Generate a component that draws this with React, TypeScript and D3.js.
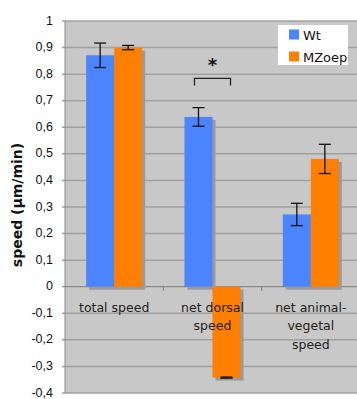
import React from 'react';
import * as d3 from 'd3';

const categories = [['total speed'], ['net dorsal', 'speed'], ['net animal-', 'vegetal', 'speed']];
const seriesNames = ['Wt', 'MZoep'];
const seriesColors = ['#4a84ff', '#ff7f00'];
const wtValues = [0.871, 0.639, 0.272];
const wtErrors = [0.046, 0.035, 0.042];
const mzValues = [0.9, -0.342, 0.481];
const mzErrors = [0.008, 0.002, 0.055];
const yTicks = [1, 0.9, 0.8, 0.7, 0.6, 0.5, 0.4, 0.3, 0.2, 0.1, 0, -0.1, -0.2, -0.3, -0.4];

const W = 357;
const H = 399;
const margin = { left: 65, top: 21, right: -3, bottom: 6 };

export default function App() {
  const y = d3.scaleLinear().domain([-0.4, 1]).range([H - margin.bottom, margin.top]);
  const x = d3.scaleBand<number>()
    .domain(d3.range(categories.length))
    .range([margin.left, W - margin.right])
    .paddingInner(0)
    .paddingOuter(0);
  const inner = d3.scaleBand<number>().domain([0, 1]).range([0, x.bandwidth()]).paddingOuter(0.755).paddingInner(0);

  const fmt = (v: number) => (Math.round(v * 10) / 10).toString().replace('.', ',');
  const series = [
    { values: wtValues, errors: wtErrors },
    { values: mzValues, errors: mzErrors },
  ];
  const y0 = y(0);
  const plotW = W - margin.right - margin.left;

  // significance bracket over net dorsal group
  const bx1 = x(1)! + inner(0)! + 10;
  const bx2 = x(1)! + inner(1)! + inner.bandwidth() - 10;
  const by = y(0.784);

  return (
    <svg width={W} height={H} style={{ position: 'absolute', left: 0, top: 0, background: '#fff' }}>
      <rect x={margin.left} y={margin.top} width={plotW} height={y(-0.4) - margin.top} fill="#c8c8c8" />
      {yTicks.map(t => (
        <g key={t}>
          <line x1={margin.left - 3} x2={W} y1={y(t)} y2={y(t)} stroke={t === 0 ? '#7a7a7a' : '#a0a0a0'} strokeWidth={t === 0 ? 1 : 1.5} />
          <text x={53} y={y(t) + 3.5} textAnchor="end" fontFamily="Liberation Sans, Arial, sans-serif" fontSize={12.5} fill="#111">
            {fmt(t)}
          </text>
        </g>
      ))}
      <line x1={margin.left} x2={margin.left} y1={margin.top} y2={y(-0.4)} stroke="#8a8a8a" />
      {[1, 2].map(i => (
        <line key={i} x1={x(i)!} x2={x(i)!} y1={y0} y2={y0 + 4} stroke="#7a7a7a" />
      ))}

      {/* bars */}
      {series.map((s, si) =>
        s.values.map((v, ci) => {
          const bx = x(ci)! + inner(si)!;
          const bw = inner.bandwidth();
          const top = Math.min(y(v), y0);
          const h = Math.abs(y(v) - y0);
          return (
            <g key={`${si}-${ci}`}>
              <rect x={bx + 3} y={top + 3} width={bw} height={h} fill="#9a9a9a" />
              <rect x={bx} y={top} width={bw} height={h} fill={seriesColors[si]} />
            </g>
          );
        })
      )}
      {/* error bars */}
      {series.map((s, si) =>
        s.values.map((v, ci) => {
          const cx = x(ci)! + inner(si)! + inner.bandwidth() / 2;
          const e = s.errors[ci];
          return (
            <g key={`e${si}-${ci}`} stroke="#111" strokeWidth={1.3}>
              <line x1={cx} x2={cx} y1={y(v + e)} y2={y(v - e)} />
              <line x1={cx - 6} x2={cx + 6} y1={y(v + e)} y2={y(v + e)} />
              <line x1={cx - 6} x2={cx + 6} y1={y(v - e)} y2={y(v - e)} />
            </g>
          );
        })
      )}

      {/* category labels */}
      {categories.map((lines, ci) => (
        <text key={ci} textAnchor="middle" fontFamily="DejaVu Sans, Verdana, sans-serif" fontSize={12.5} fill="#222">
          {lines.map((l, li) => (
            <tspan key={li} x={x(ci)! + x.bandwidth() / 2} y={y0 + 25 + li * 18.5}>
              {l}
            </tspan>
          ))}
        </text>
      ))}

      {/* significance */}
      <path d={`M${bx1},${by + 7}V${by}H${bx2}V${by + 7}`} fill="none" stroke="#222" strokeWidth={1.3} />
      <text x={(bx1 + bx2) / 2} y={by - 7} textAnchor="middle" fontFamily="DejaVu Sans, sans-serif" fontWeight="bold" fontSize={18} fill="#111">
        *
      </text>

      {/* legend */}
      <rect x={278} y={25} width={70} height={40} fill="#fff" />
      {seriesNames.map((n, i) => (
        <g key={n}>
          <rect x={289} y={29.5 + i * 22} width={10} height={10} fill={seriesColors[i]} />
          <text x={303} y={39.5 + i * 22} fontFamily="DejaVu Sans, Verdana, sans-serif" fontSize={13} fill="#111">
            {n}
          </text>
        </g>
      ))}

      {/* y axis title */}
      <text
        transform={`translate(22,${205}) rotate(-90)`}
        textAnchor="middle"
        fontFamily="DejaVu Sans, Verdana, sans-serif"
        fontWeight="bold"
        fontSize={14}
        fill="#111"
      >
        speed (µm/min)
      </text>
    </svg>
  );
}
